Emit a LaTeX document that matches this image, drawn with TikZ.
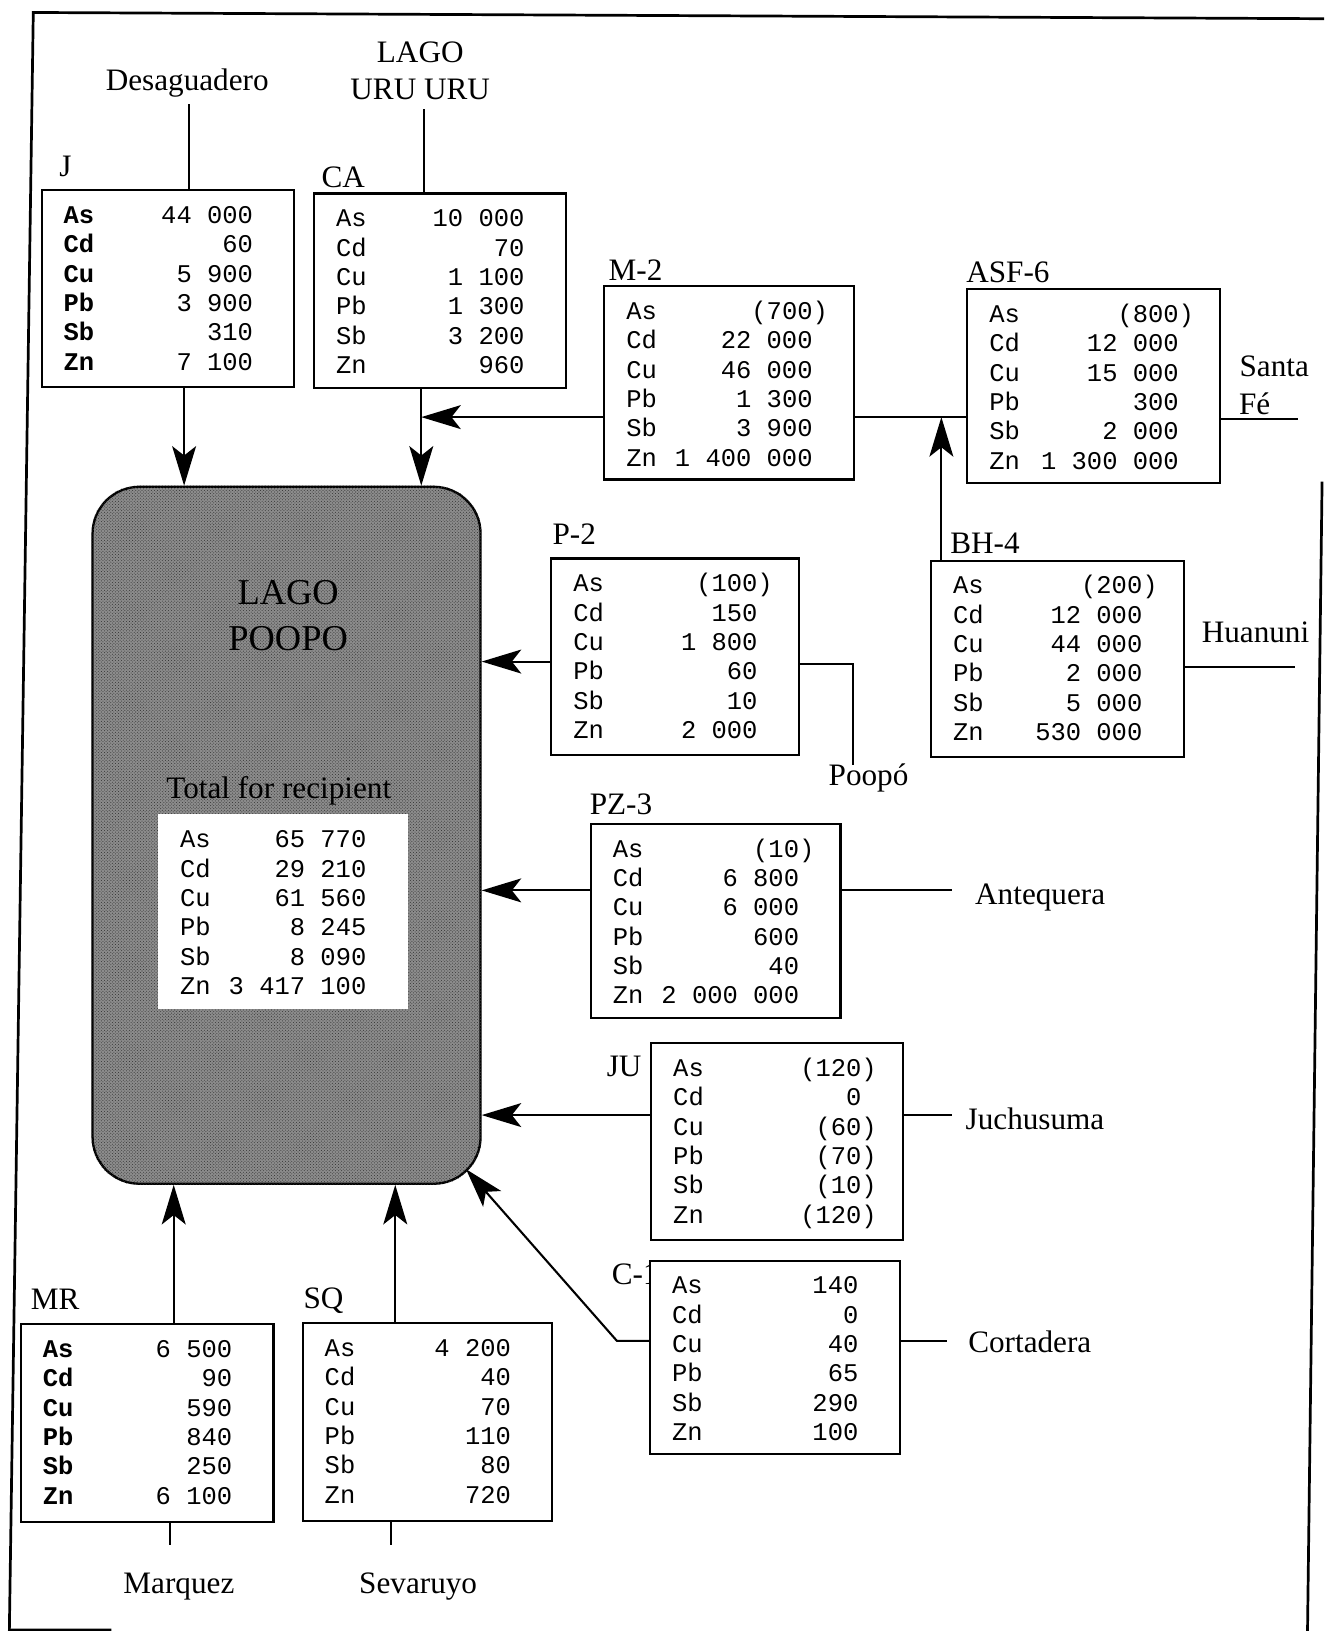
\documentclass[tikz,border=0pt]{standalone}
\usepackage{fontspec}
\setmainfont{Liberation Serif}
\setmonofont{Liberation Mono}
\usetikzlibrary{arrows.meta,calc,patterns}
\newdimen\rowwd
\newcommand\rw[2]{\hbox to \rowwd{#1\hfill #2}}
\newcommand\pv[1]{(#1\rlap{)}}
\newcommand\tabfont{\ttfamily\fontsize{24.5}{28.2}\selectfont}
\newcommand\databox[7][]{%
  \pgfmathsetlength\rowwd{#5-#3-61}%
  \node[boxst,#1,minimum width={#5-#3},minimum height={#6-#4}] (#2) at ({(#3+#5)/2},{(#4+#6)/2}) {};
  \node[anchor=base west,inner sep=0pt,font=\tabfont] (#2-t) at ({#3+21},{#4+32}) {\vtop{\baselineskip=28.2pt\relax #7}};
}
\tikzset{
  boxst/.style={draw,line width=2.1pt,fill=white,inner sep=0pt},
  lbl/.style={font=\fontsize{30}{32}\selectfont,inner sep=0pt},
  conn/.style={line width=2pt},
  arr/.style={line width=2pt,-{Stealth[length=38pt,width=23pt,inset=9pt]}},
  frm/.style={line width=2.6pt},
}
\begin{document}
\begin{tikzpicture}[x=1pt,y=-1pt]
\useasboundingbox (0,0) rectangle (1273,1568);
% frame
\draw[frm] (107,1567) -- (9,1567) -- (32,12) -- (1273,18);
\draw[frm] (1271,463) -- (1257,1568);

% lake
\node[draw,line width=2.2pt,fill=black!45,rounded corners=45pt,minimum width=373,minimum height=670,inner sep=0pt] (lake) at (275.5,803) {};
\fill[pattern=crosshatch dots,pattern color=black!80,rounded corners=45pt] (lake.south west) rectangle (lake.north east);
\node[font=\fontsize{35}{37}\selectfont,inner sep=0pt] (lk1) at (277,570) {LAGO};
\node[font=\fontsize{35}{37}\selectfont,inner sep=0pt] (lk2) at (277,614) {POOPO};
\node[lbl] (tot-l) at (268,760) {Total for recipient};
\databox[draw=none]{TOT}{152}{783}{392}{970}{\rw{As}{65 770}\rw{Cd}{29 210}\rw{Cu}{61 560}\rw{Pb}{8 245}\rw{Sb}{8 090}\rw{Zn}{3 417 100}}

% labels of boxes
\node[lbl] (J-l) at (63,160) {J};
\node[lbl] (CA-l) at (330,170) {CA};
\node[lbl] (M2-l) at (611,260) {M-2};
\node[lbl] (ASF-l) at (969,262) {ASF-6};
\node[lbl] (P2-l) at (552,514) {P-2};
\node[lbl] (BH-l) at (947,522) {BH-4};
\node[lbl] (PZ-l) at (597,773) {PZ-3};
\node[lbl] (JU-l) at (600,1025) {JU};
\node[lbl,anchor=west] (C1-l) at (588,1225) {C-1};
\node[lbl] (MR-l) at (53,1249) {MR};
\node[lbl] (SQ-l) at (311,1250) {SQ};

% data boxes
\databox{J}{40}{183}{283}{372}{\rw{\textbf{As}}{44 000}\rw{\textbf{Cd}}{60}\rw{\textbf{Cu}}{5 900}\rw{\textbf{Pb}}{3 900}\rw{\textbf{Sb}}{310}\rw{\textbf{Zn}}{7 100}}
\databox{CA}{302}{186}{544}{373}{\rw{As}{10 000}\rw{Cd}{70}\rw{Cu}{1 100}\rw{Pb}{1 300}\rw{Sb}{3 200}\rw{Zn}{960}}
\databox{M2}{581}{275}{821}{461}{\rw{As}{\pv{700}}\rw{Cd}{22 000}\rw{Cu}{46 000}\rw{Pb}{1 300}\rw{Sb}{3 900}\rw{Zn}{1 400 000}}
\databox{ASF}{930}{278}{1173}{464}{\rw{As}{\pv{800}}\rw{Cd}{12 000}\rw{Cu}{15 000}\rw{Pb}{300}\rw{Sb}{2 000}\rw{Zn}{1 300 000}}
\databox{P2}{530}{537}{768}{726}{\rw{As}{\pv{100}}\rw{Cd}{150}\rw{Cu}{1 800}\rw{Pb}{60}\rw{Sb}{10}\rw{Zn}{2 000}}
\databox{BH}{895}{539}{1138}{728}{\rw{As}{\pv{200}}\rw{Cd}{12 000}\rw{Cu}{44 000}\rw{Pb}{2 000}\rw{Sb}{5 000}\rw{Zn}{530 000}}
\databox{PZ}{568}{792}{808}{979}{\rw{As}{\pv{10}}\rw{Cd}{6 800}\rw{Cu}{6 000}\rw{Pb}{600}\rw{Sb}{40}\rw{Zn}{2 000 000}}
\databox{JU}{626}{1003}{868}{1192}{\rw{As}{\pv{120}}\rw{Cd}{0}\rw{Cu}{\pv{60}}\rw{Pb}{\pv{70}}\rw{Sb}{\pv{10}}\rw{Zn}{\pv{120}}}
\databox{C1}{625}{1212}{865}{1398}{\rw{As}{140}\rw{Cd}{0}\rw{Cu}{40}\rw{Pb}{65}\rw{Sb}{290}\rw{Zn}{100}}
\databox{MR}{20}{1273}{263}{1463}{\rw{\textbf{As}}{6 500}\rw{\textbf{Cd}}{90}\rw{\textbf{Cu}}{590}\rw{\textbf{Pb}}{840}\rw{\textbf{Sb}}{250}\rw{\textbf{Zn}}{6 100}}
\databox{SQ}{291}{1272}{531}{1462}{\rw{As}{4 200}\rw{Cd}{40}\rw{Cu}{70}\rw{Pb}{110}\rw{Sb}{80}\rw{Zn}{720}}

% place names
\node[lbl] (des) at (180,80) {Desaguadero};
\node[lbl] (uru1) at (404,50) {LAGO};
\node[lbl] (uru2) at (404,86) {URU URU};
\node[lbl] (sf1) at (1225,352) {Santa};
\node[lbl,anchor=west] (sf2) at (1191,388) {Fé};
\node[lbl] (hua) at (1207,608) {Huanuni};
\node[lbl] (poo) at (835,748) {Poopó};
\node[lbl] (ant) at (1000,863) {Antequera};
\node[lbl] (juc) at (995,1076) {Juchusuma};
\node[lbl] (cor) at (990,1290) {Cortadera};
\node[lbl] (mar) at (172,1525) {Marquez};
\node[lbl] (sev) at (402,1525) {Sevaruyo};

% connectors
\coordinate (desE) at (182,100);
\coordinate (uruE) at (408,105);
\draw[conn] (desE) -- (desE |- J.north);
\draw[conn] (uruE) -- (uruE |- CA.north);
\coordinate (xJ) at (177,0);
\coordinate (xCA) at (405,0);
\draw[arr] (xJ |- J.south) -- (xJ |- lake.north);
\draw[arr] (xCA |- CA.south) -- (xCA |- lake.north);
\coordinate (yM) at (0,401);
\draw[arr] (yM -| M2.west) -- (yM -| xCA);
\draw[conn] (yM -| M2.east) -- (yM -| ASF.west);
\coordinate (sfE) at (1248,403);
\draw[conn] (sfE -| ASF.east) -- (sfE);
\coordinate (xB) at (905,0);
\draw[arr] (xB |- BH.north) -- (xB |- yM);
\coordinate (huaE) at (1245,641);
\draw[conn] (huaE -| BH.east) -- (huaE);
\coordinate (yP) at (0,636);
\draw[arr] (yP -| P2.west) -- (yP -| lake.east);
\coordinate (pooE) at (820,735);
\draw[conn] (P2.east |- 0,638) -- (pooE |- 0,638) -- (pooE);
\coordinate (yPZ) at (0,856);
\coordinate (antE) at (915,856);
\draw[arr] (yPZ -| PZ.west) -- (yPZ -| lake.east);
\draw[conn] (antE -| PZ.east) -- (antE);
\coordinate (yJU) at (0,1072);
\coordinate (jucE) at (915,1072);
\draw[arr] (yJU -| JU.west) -- (yJU -| lake.east);
\draw[conn] (jucE -| JU.east) -- (jucE);
\coordinate (corE) at (910,1289);
\coordinate (cBend) at (593,1289);
\coordinate (lakeSE) at (448,1124);
\draw[arr] (cBend -| C1.west) -- (cBend) -- (lakeSE);
\draw[conn] (corE -| C1.east) -- (corE);
\coordinate (xMR) at (167,0);
\coordinate (xSQ) at (380,0);
\draw[arr] (xMR |- MR.north) -- (xMR |- lake.south);
\draw[arr] (xSQ |- SQ.north) -- (xSQ |- lake.south);
\coordinate (marE) at (163,1485);
\coordinate (sevE) at (376,1485);
\draw[conn] (marE |- MR.south) -- (marE);
\draw[conn] (sevE |- SQ.south) -- (sevE);
\end{tikzpicture}
\end{document}
